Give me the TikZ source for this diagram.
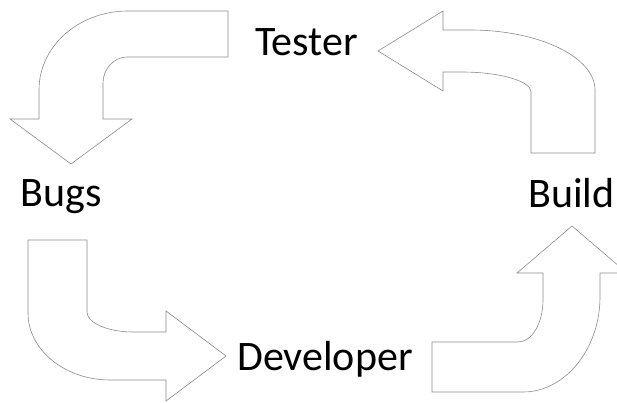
\documentclass[tikz,border=0pt]{standalone}
\usepackage{fontspec}
\setmainfont{Carlito}
\tikzset{
  bentarrow/.style={draw=black!45, line width=0.6pt, fill=white, line join=miter},
  label/.style={inner sep=0pt, anchor=base, font=\fontsize{42}{50}\selectfont, text=black}
}
\begin{document}
\begin{tikzpicture}[x=1pt,y=1pt]
\useasboundingbox (0,0) rectangle (617,403);
% top-left arrow (Tester -> Bugs)
\draw[bentarrow] (228,392) -- (128,392) .. controls (79,392) and (39,357) .. (39,313)
  -- (39,284) -- (10,284) -- (71,239) -- (132,284) -- (103,284) -- (103,320)
  .. controls (103,334) and (114,346) .. (127,346) -- (228,346) -- cycle;
% top-right arrow (Build -> Tester)
\draw[bentarrow] (378,352) -- (443,392) -- (443,373) -- (470,373)
  .. controls (539,373) and (595,346) .. (595,313) -- (595,250) -- (531,250) -- (531,311)
  .. controls (531,322) and (500,331) .. (461,331) -- (443,331) -- (443,312) -- cycle;
% bottom-left arrow (Bugs -> Developer)
\draw[bentarrow] (28,163) -- (87,163) -- (87,91) .. controls (87,80) and (108,71) .. (133,71)
  -- (166,71) -- (166,92) -- (226,47) -- (166,2) -- (166,23) -- (110,23)
  .. controls (65,23) and (28,53) .. (28,90) -- cycle;
% bottom-right arrow (Developer -> Build)
\draw[bentarrow] (572,177) -- (627,130) -- (600,130) -- (600,106)
  .. controls (600,54) and (565,11) .. (523,11) -- (432,11) -- (432,61) -- (518,61)
  .. controls (532,61) and (543,80) .. (543,103) -- (543,130) -- (517,130) -- cycle;
% labels
\node[label] (tester) at (306.5,347) {Tester};
\node[label] (bugs) at (61.5,196) {Bugs};
\node[label] (build) at (571.5,195) {Build};
\node[label] (developer) at (325,32) {Developer};
\end{tikzpicture}
\end{document}
